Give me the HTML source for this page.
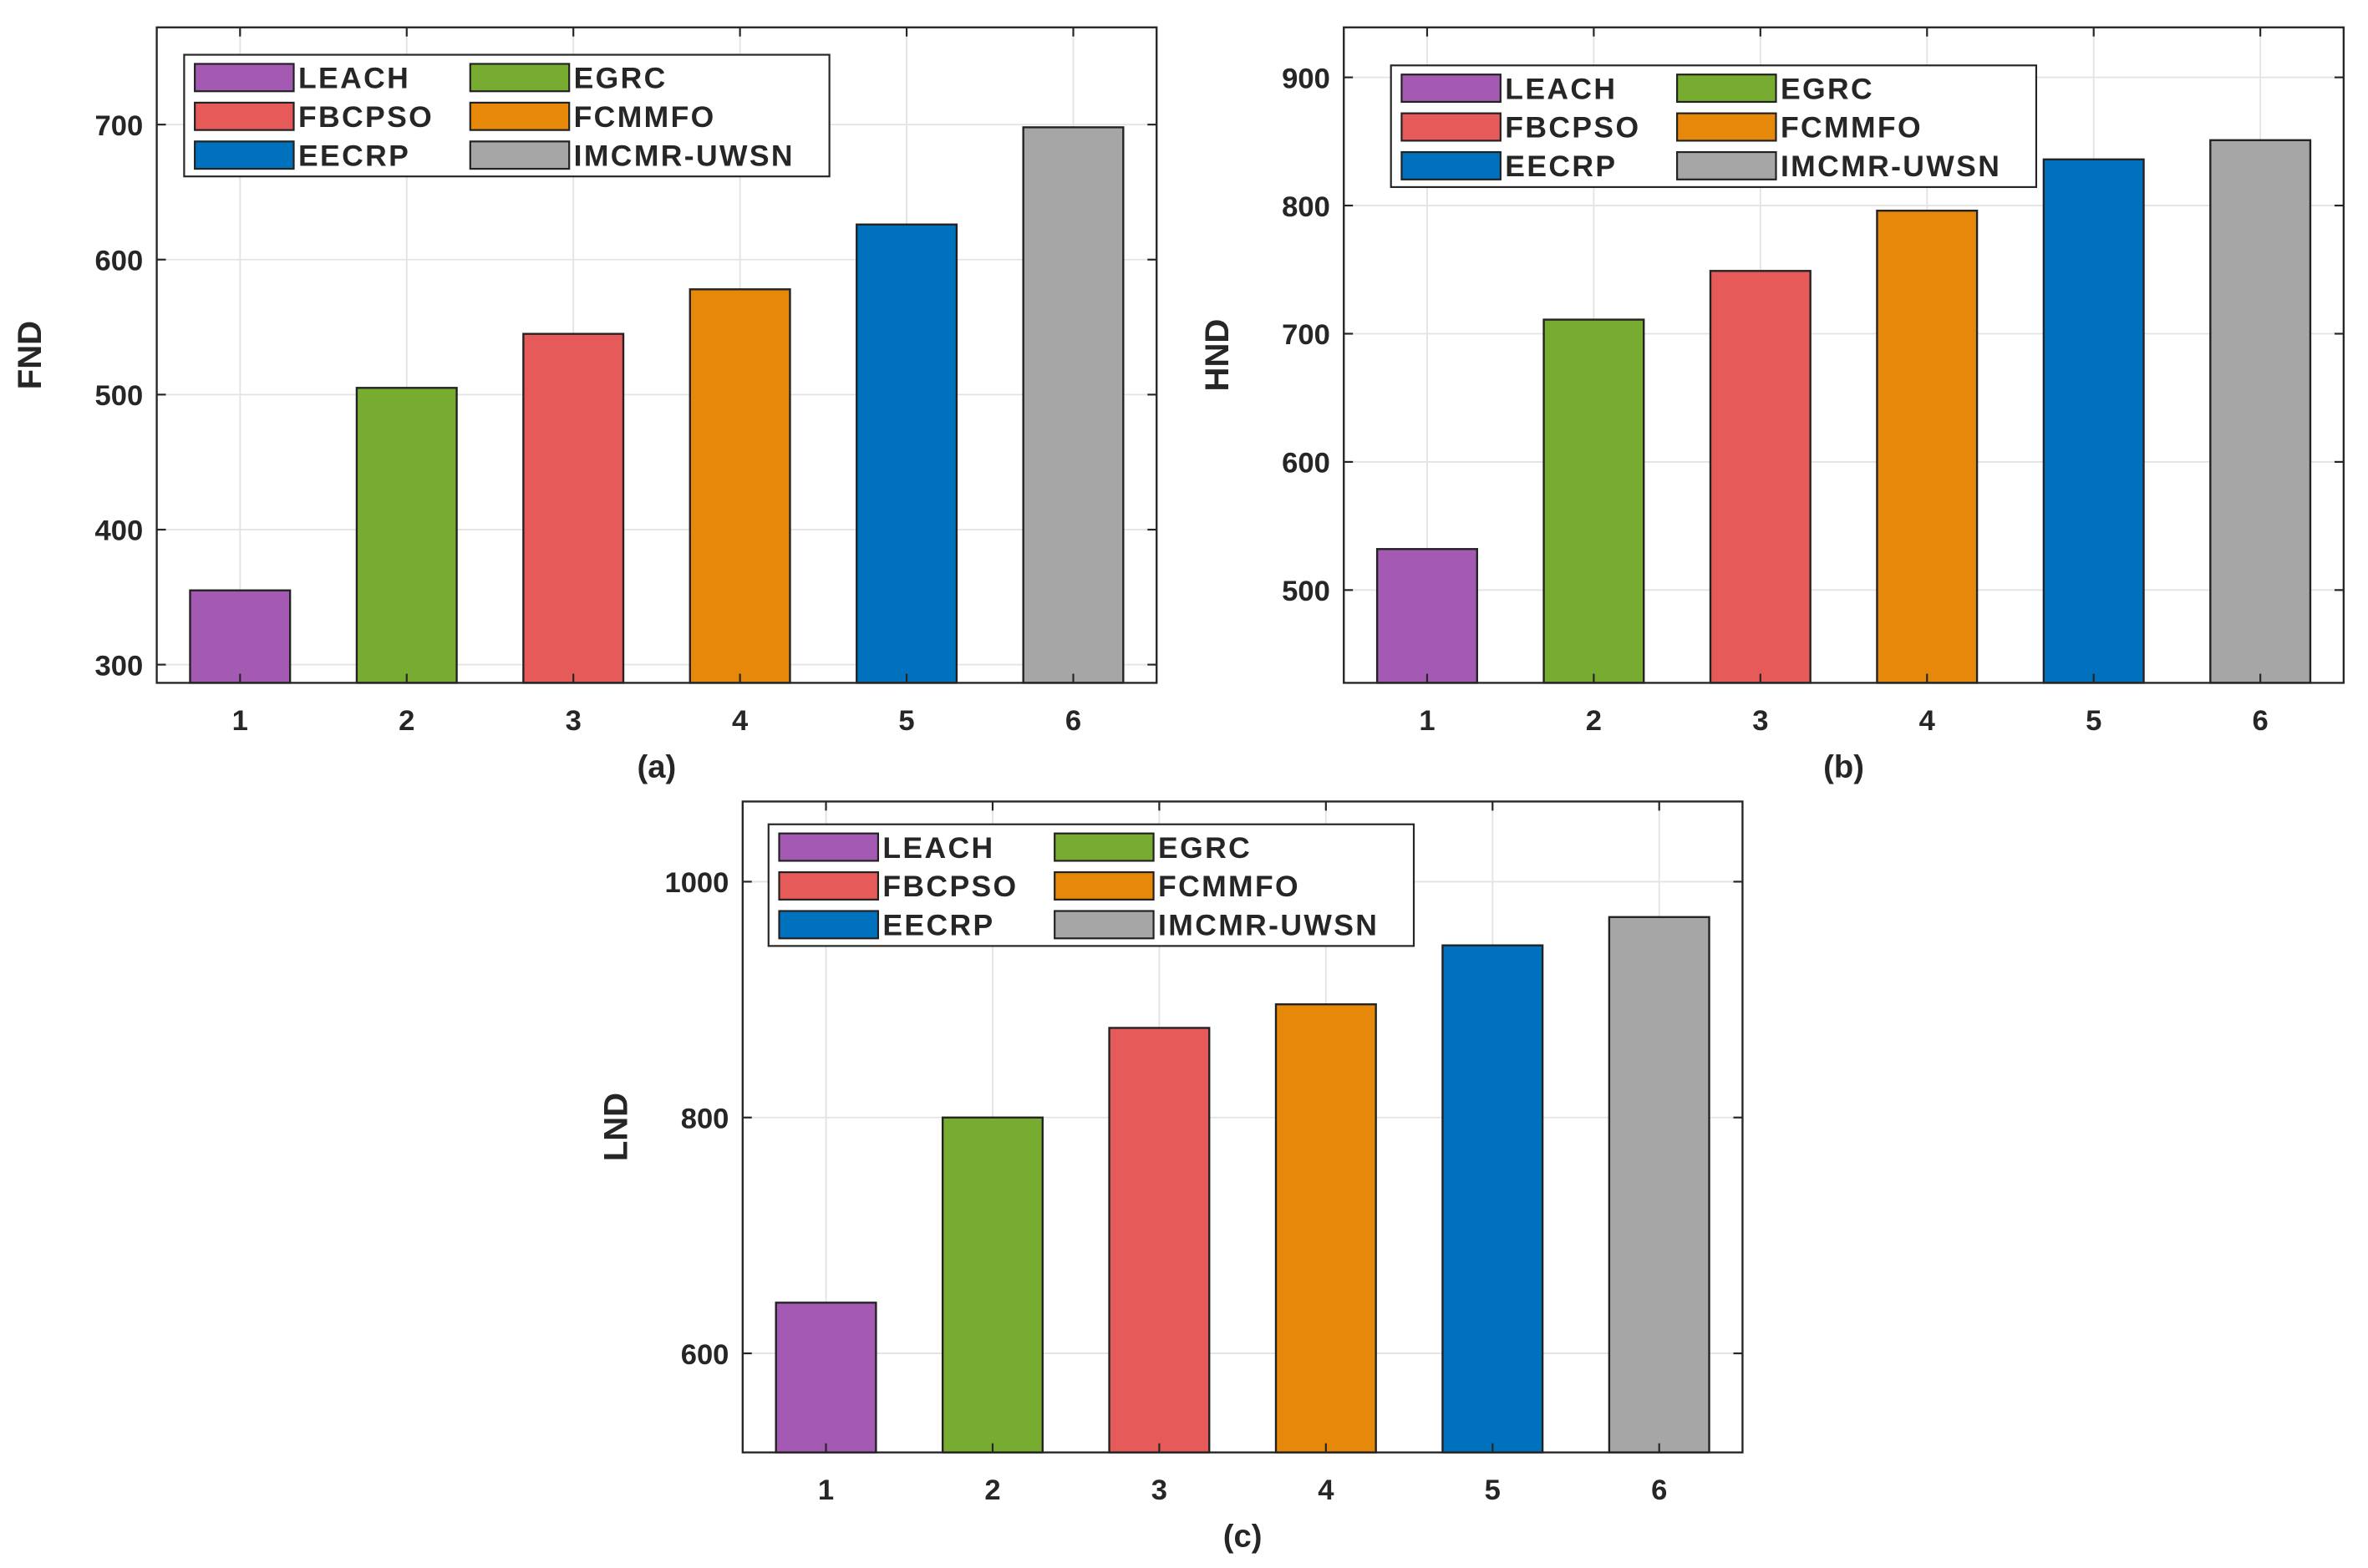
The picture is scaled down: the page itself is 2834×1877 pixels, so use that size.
<!DOCTYPE html>
<html><head><meta charset="utf-8"><style>
html,body{margin:0;padding:0;background:#fff;}
svg{display:block;font-family:"Liberation Sans",sans-serif;font-weight:bold;}
</style></head><body>
<svg id="fig" width="2834" height="1877" viewBox="0 0 1556 1031" preserveAspectRatio="none" xmlns="http://www.w3.org/2000/svg"></svg>
<script>
const categories = [1,2,3,4,5,6];
const seriesNames = ["LEACH","EGRC","FBCPSO","FCMMFO","EECRP","IMCMR-UWSN"];
const fndValues = [355,505,545,578,626,698];
const hndValues = [532,711,749,796,836,851];
const lndValues = [643,800,876,896,946,970];
const fndTicks = [300,400,500,600,700];
const hndTicks = [500,600,700,800,900];
const lndTicks = [600,800,1000];
const colors = ["#A45AB3","#77AC30","#E75A5A","#E6890A","#0072BD","#A6A6A6"];
const NS = "http://www.w3.org/2000/svg";
const svg = document.getElementById('fig');
function mk(tag, attrs, parent){ const e=document.createElementNS(NS,tag); for(const k in attrs) e.setAttribute(k,attrs[k]); (parent||svg).appendChild(e); return e; }

function panel(id, box, ylim, values, ticks, ylabel, caption, legendBox){
  const g = mk('g',{});
  
  
  const [L,T,R,B] = box;
  const xs = v => L + (v-0.5)/6*(R-L);
  const ys = v => B - (v-ylim[0])/(ylim[1]-ylim[0])*(B-T);
  mk('rect',{x:L,y:T,width:R-L,height:B-T,fill:'#fff'},g);
  categories.forEach(c=>{ mk('line',{x1:xs(c),x2:xs(c),y1:T,y2:B,stroke:'#e3e3e3','stroke-width':1},g); });
  ticks.forEach(t=>{ mk('line',{x1:L,x2:R,y1:ys(t),y2:ys(t),stroke:'#e3e3e3','stroke-width':1},g); });
  values.forEach((v,i)=>{
    const c = categories[i];
    const r = mk('rect',{x:xs(c-0.3),y:ys(v),width:xs(c+0.3)-xs(c-0.3),height:B-ys(v),fill:colors[i],stroke:'#222','stroke-width':1.3},g);
    
    
  });
  mk('rect',{x:L,y:T,width:R-L,height:B-T,fill:'none',stroke:'#262626','stroke-width':1.3},g);
  ticks.forEach(t=>{
    mk('line',{x1:L,x2:L+6,y1:ys(t),y2:ys(t),stroke:'#262626','stroke-width':1.2},g);
    mk('line',{x1:R,x2:R-6,y1:ys(t),y2:ys(t),stroke:'#262626','stroke-width':1.2},g);
    const tx = mk('text',{x:L-9,y:ys(t)+7,'text-anchor':'end','font-size':19,fill:'#262626'},g);
    tx.textContent = t;
    
    
  });
  categories.forEach(c=>{
    mk('line',{x1:xs(c),x2:xs(c),y1:B,y2:B-6,stroke:'#262626','stroke-width':1.2},g);
    mk('line',{x1:xs(c),x2:xs(c),y1:T,y2:T+6,stroke:'#262626','stroke-width':1.2},g);
    const tx = mk('text',{x:xs(c),y:B+31,'text-anchor':'middle','font-size':19,fill:'#262626'},g);
    tx.textContent = c;
    
    
  });
  const yl = mk('text',{x:0,y:0,transform:`translate(${L-76},${(T+B)/2}) rotate(-90)`,'text-anchor':'middle','font-size':22,fill:'#262626'},g);
  yl.textContent = ylabel;
  
  
  const cap = mk('text',{x:(L+R)/2,y:B+62,'text-anchor':'middle','font-size':21,fill:'#262626'},g);
  cap.textContent = caption;
  
  
  const [lx,ly] = legendBox;
  const lg = mk('g',{},g);
  
  
  mk('rect',{x:lx,y:ly,width:424,height:80,fill:'#fff',stroke:'#262626','stroke-width':1.2},lg);
  seriesNames.forEach((n,i)=>{
    const col = i%2, row = Math.floor(i/2);
    const sx = lx + 7 + col*181, sy = ly + 6 + row*25.5;
    mk('rect',{x:sx,y:sy,width:65,height:18,fill:colors[i],stroke:'#222','stroke-width':1.2},lg);
    const t = mk('text',{x:sx+68,y:sy+16,'font-size':19.5,'letter-spacing':1.3,fill:'#262626'},lg);
    t.textContent = n;
    
    
  });
}
panel('fnd',[103,18,760,449],[286.5,772],fndValues,fndTicks,'FND','(a)',[121,36]);
panel('hnd',[883,18,1540,449],[427.6,939],hndValues,hndTicks,'HND','(b)',[914,43]);
panel('lnd',[488,527,1145,955],[516,1068],lndValues,lndTicks,'LND','(c)',[505,542]);
</script>
</body></html>
